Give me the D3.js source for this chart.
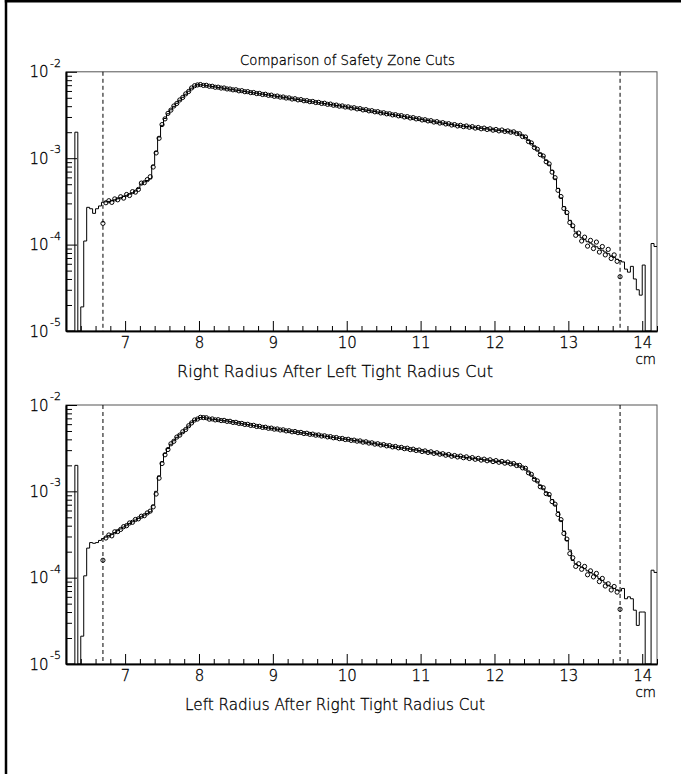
<!DOCTYPE html>
<html><head><meta charset="utf-8">
<script src="https://cdn.jsdelivr.net/npm/d3@7"></script>
<style>
body{margin:0;background:#fff;}
text{font-family:"DejaVu Sans",sans-serif;font-weight:200;fill:#000;stroke:#000;stroke-width:0.3px;}
</style>
</head><body>
<svg id="chart" width="681" height="774"></svg>
<script>
// ---------------- data ----------------
const chartTitle = "Comparison of Safety Zone Cuts";
const panelTitles = ["Right Radius After Left Tight Radius Cut", "Left Radius After Right Tight Radius Cut"];
const xUnit = "cm";
const xMajorTicks = [7, 8, 9, 10, 11, 12, 13, 14];
const yMajorTicks = [1e-5, 1e-4, 1e-3, 1e-2];
const yTickExponents = ["-5", "-4", "-3", "-2"];
const cutPositions = [6.7, 13.7];
const xDomain = [6.2, 14.2];
const yDomain = [1e-5, 1e-2];
const binStart = 6.2;      // first histogram bin edge (cm)
const binWidth = 0.04;     // histogram bin width (cm)
const pointsFirstBin = 12; // circles start at the bin centred on 6.70 cm

// top panel histogram (200 bins, 6.20 .. 14.20 cm)
const histTop = [
  0,0,0,2.0e-3,0,1.9e-5,1.1e-4,2.7e-4,2.6e-4,2.3e-4,2.6e-4,2.8e-4,
  3.09e-4,3.13e-4,3.16e-4,3.21e-4,3.30e-4,3.39e-4,3.49e-4,3.61e-4,3.72e-4,3.85e-4,
  3.98e-4,4.17e-4,4.47e-4,5.01e-4,5.31e-4,5.52e-4,5.75e-4,8.32e-4,1.20e-3,1.76e-3,
  2.40e-3,2.88e-3,3.27e-3,3.63e-3,3.98e-3,4.32e-3,4.68e-3,5.07e-3,5.50e-3,5.96e-3,
  6.46e-3,6.84e-3,7.08e-3,7.08e-3,7.00e-3,6.92e-3,6.84e-3,6.76e-3,6.67e-3,6.59e-3,
  6.52e-3,6.44e-3,6.37e-3,6.28e-3,6.21e-3,6.14e-3,6.07e-3,6.00e-3,5.92e-3,5.85e-3,
  5.78e-3,5.71e-3,5.65e-3,5.57e-3,5.51e-3,5.45e-3,5.38e-3,5.32e-3,5.25e-3,5.19e-3,
  5.13e-3,5.07e-3,5.01e-3,4.94e-3,4.89e-3,4.83e-3,4.78e-3,4.72e-3,4.66e-3,4.60e-3,
  4.55e-3,4.50e-3,4.45e-3,4.39e-3,4.34e-3,4.29e-3,4.24e-3,4.19e-3,4.13e-3,4.08e-3,
  4.04e-3,3.99e-3,3.94e-3,3.89e-3,3.85e-3,3.80e-3,3.76e-3,3.71e-3,3.66e-3,3.61e-3,
  3.56e-3,3.52e-3,3.47e-3,3.42e-3,3.37e-3,3.33e-3,3.29e-3,3.24e-3,3.20e-3,3.16e-3,
  3.12e-3,3.08e-3,3.03e-3,2.99e-3,2.95e-3,2.92e-3,2.88e-3,2.84e-3,2.80e-3,2.76e-3,
  2.73e-3,2.69e-3,2.65e-3,2.62e-3,2.58e-3,2.55e-3,2.52e-3,2.48e-3,2.45e-3,2.42e-3,
  2.39e-3,2.37e-3,2.35e-3,2.33e-3,2.31e-3,2.29e-3,2.26e-3,2.24e-3,2.22e-3,2.20e-3,
  2.18e-3,2.16e-3,2.14e-3,2.12e-3,2.10e-3,2.08e-3,2.07e-3,2.04e-3,2.02e-3,2.00e-3,
  1.96e-3,1.90e-3,1.82e-3,1.73e-3,1.60e-3,1.48e-3,1.36e-3,1.24e-3,1.14e-3,1.04e-3,
  9.44e-4,8.32e-4,7.24e-4,5.75e-4,4.47e-4,3.47e-4,2.75e-4,2.24e-4,1.91e-4,1.58e-4,
  1.40e-4,1.29e-4,1.20e-4,1.14e-4,1.08e-4,1.04e-4,9.89e-5,9.44e-5,9.02e-5,8.61e-5,
  8.22e-5,7.85e-5,7.41e-5,7.08e-5,6.76e-5,6.53e-5,
  6.3e-5,5.2e-5,4.8e-5,5.6e-5,4.0e-5,3.0e-5,2.6e-5,5.8e-5,0,0,1.03e-4,9.5e-5
];
// top panel points (bins 12 .. 187)
const pointsTop = [
  1.76e-4,3.05e-4,3.22e-4,3.08e-4,3.38e-4,3.30e-4,3.58e-4,3.45e-4,3.80e-4,3.70e-4,
  4.10e-4,4.05e-4,4.35e-4,5.15e-4,5.20e-4,5.65e-4,6.10e-4,7.90e-4,1.15e-3,1.70e-3,
  2.45e-3,2.85e-3,3.30e-3,3.60e-3,4.02e-3,4.30e-3,4.72e-3,5.05e-3,5.55e-3,5.92e-3,
  6.50e-3,6.90e-3,7.05e-3,7.12e-3,6.95e-3,6.98e-3,6.80e-3,6.80e-3,6.62e-3,6.64e-3,
  6.48e-3,6.50e-3,6.33e-3,6.32e-3,6.18e-3,6.20e-3,6.02e-3,6.05e-3,5.88e-3,5.90e-3,
  5.74e-3,5.76e-3,5.60e-3,5.62e-3,5.46e-3,5.50e-3,5.34e-3,5.37e-3,5.20e-3,5.24e-3,
  5.09e-3,5.11e-3,4.97e-3,4.99e-3,4.84e-3,4.88e-3,4.73e-3,4.77e-3,4.62e-3,4.64e-3,
  4.51e-3,4.54e-3,4.41e-3,4.43e-3,4.30e-3,4.33e-3,4.20e-3,4.23e-3,4.10e-3,4.12e-3,
  4.00e-3,4.03e-3,3.91e-3,3.93e-3,3.81e-3,3.84e-3,3.72e-3,3.75e-3,3.62e-3,3.65e-3,
  3.53e-3,3.55e-3,3.44e-3,3.46e-3,3.34e-3,3.36e-3,3.26e-3,3.27e-3,3.17e-3,3.19e-3,
  3.09e-3,3.11e-3,3.00e-3,3.03e-3,2.92e-3,2.95e-3,2.85e-3,2.87e-3,2.77e-3,2.79e-3,
  2.70e-3,2.72e-3,2.62e-3,2.65e-3,2.55e-3,2.58e-3,2.49e-3,2.51e-3,2.42e-3,2.45e-3,
  2.36e-3,2.40e-3,2.32e-3,2.36e-3,2.28e-3,2.32e-3,2.23e-3,2.27e-3,2.19e-3,2.23e-3,
  2.15e-3,2.19e-3,2.11e-3,2.15e-3,2.07e-3,2.12e-3,2.04e-3,2.07e-3,2.00e-3,2.02e-3,
  1.93e-3,1.92e-3,1.78e-3,1.76e-3,1.56e-3,1.50e-3,1.33e-3,1.27e-3,1.10e-3,1.06e-3,
  9.10e-4,8.60e-4,6.90e-4,5.95e-4,4.25e-4,3.60e-4,2.62e-4,2.35e-4,1.80e-4,1.65e-4,
  1.28e-4,1.36e-4,1.10e-4,1.22e-4,9.6e-5,1.12e-4,9.0e-5,1.07e-4,8.2e-5,9.5e-5,
  7.6e-5,8.8e-5,6.9e-5,7.6e-5,6.4e-5,4.25e-5
];
// bottom panel histogram (200 bins)
const histBottom = [
  0,0,0,2.0e-3,0,2.1e-5,1.05e-4,2.2e-4,2.55e-4,2.5e-4,2.55e-4,2.7e-4,
  2.84e-4,2.95e-4,3.07e-4,3.18e-4,3.33e-4,3.50e-4,3.67e-4,3.86e-4,4.06e-4,4.25e-4,
  4.44e-4,4.65e-4,4.86e-4,5.08e-4,5.31e-4,5.55e-4,5.79e-4,6.92e-4,1.00e-3,1.51e-3,
  2.19e-3,2.75e-3,3.13e-3,3.51e-3,3.85e-3,4.22e-3,4.52e-3,4.83e-3,5.25e-3,5.71e-3,
  6.24e-3,6.64e-3,6.92e-3,7.16e-3,7.19e-3,7.08e-3,6.92e-3,6.84e-3,6.78e-3,6.71e-3,
  6.65e-3,6.59e-3,6.52e-3,6.43e-3,6.34e-3,6.25e-3,6.17e-3,6.08e-3,6.00e-3,5.93e-3,
  5.85e-3,5.77e-3,5.69e-3,5.61e-3,5.55e-3,5.48e-3,5.42e-3,5.36e-3,5.30e-3,5.24e-3,
  5.18e-3,5.12e-3,5.06e-3,5.00e-3,4.94e-3,4.89e-3,4.83e-3,4.78e-3,4.72e-3,4.67e-3,
  4.61e-3,4.56e-3,4.51e-3,4.46e-3,4.41e-3,4.36e-3,4.31e-3,4.26e-3,4.21e-3,4.16e-3,
  4.11e-3,4.06e-3,4.02e-3,3.97e-3,3.93e-3,3.88e-3,3.85e-3,3.80e-3,3.75e-3,3.71e-3,
  3.66e-3,3.61e-3,3.56e-3,3.52e-3,3.48e-3,3.44e-3,3.40e-3,3.35e-3,3.31e-3,3.27e-3,
  3.23e-3,3.19e-3,3.16e-3,3.12e-3,3.08e-3,3.04e-3,3.01e-3,2.97e-3,2.93e-3,2.90e-3,
  2.86e-3,2.83e-3,2.79e-3,2.76e-3,2.73e-3,2.69e-3,2.66e-3,2.63e-3,2.59e-3,2.56e-3,
  2.54e-3,2.52e-3,2.49e-3,2.47e-3,2.44e-3,2.42e-3,2.39e-3,2.37e-3,2.34e-3,2.32e-3,
  2.30e-3,2.28e-3,2.25e-3,2.23e-3,2.21e-3,2.18e-3,2.16e-3,2.14e-3,2.11e-3,2.07e-3,
  2.03e-3,1.97e-3,1.91e-3,1.82e-3,1.68e-3,1.54e-3,1.41e-3,1.29e-3,1.17e-3,1.07e-3,
  9.77e-4,8.91e-4,8.04e-4,6.92e-4,5.79e-4,4.57e-4,3.47e-4,2.69e-4,2.09e-4,1.58e-4,
  1.45e-4,1.38e-4,1.33e-4,1.27e-4,1.20e-4,1.15e-4,1.10e-4,1.04e-4,9.77e-5,9.23e-5,
  8.71e-5,8.17e-5,7.85e-5,7.50e-5,7.21e-5,7.00e-5,
  7.5e-5,5.7e-5,6.0e-5,5.7e-5,4.2e-5,2.8e-5,4.0e-5,4.0e-5,0,0,1.22e-4,1.15e-4
];
// bottom panel points (bins 12 .. 187)
const pointsBottom = [
  1.59e-4,2.88e-4,3.12e-4,3.05e-4,3.40e-4,3.42e-4,3.62e-4,3.90e-4,4.00e-4,4.30e-4,
  4.38e-4,4.72e-4,4.80e-4,5.15e-4,5.22e-4,5.62e-4,5.90e-4,6.60e-4,9.30e-4,1.42e-3,
  2.10e-3,2.65e-3,3.05e-3,3.55e-3,3.80e-3,4.25e-3,4.48e-3,4.90e-3,5.20e-3,5.75e-3,
  6.20e-3,6.70e-3,6.88e-3,7.20e-3,7.15e-3,7.12e-3,6.85e-3,6.90e-3,6.72e-3,6.76e-3,
  6.60e-3,6.64e-3,6.46e-3,6.48e-3,6.28e-3,6.30e-3,6.12e-3,6.12e-3,5.95e-3,5.98e-3,
  5.80e-3,5.82e-3,5.64e-3,5.66e-3,5.50e-3,5.53e-3,5.37e-3,5.40e-3,5.25e-3,5.28e-3,
  5.13e-3,5.16e-3,5.01e-3,5.04e-3,4.89e-3,4.93e-3,4.78e-3,4.82e-3,4.67e-3,4.71e-3,
  4.57e-3,4.60e-3,4.47e-3,4.50e-3,4.37e-3,4.40e-3,4.27e-3,4.30e-3,4.17e-3,4.20e-3,
  4.07e-3,4.10e-3,3.98e-3,4.01e-3,3.89e-3,3.92e-3,3.81e-3,3.84e-3,3.71e-3,3.75e-3,
  3.62e-3,3.65e-3,3.52e-3,3.56e-3,3.44e-3,3.48e-3,3.36e-3,3.39e-3,3.27e-3,3.31e-3,
  3.19e-3,3.23e-3,3.12e-3,3.16e-3,3.04e-3,3.08e-3,2.97e-3,3.01e-3,2.89e-3,2.94e-3,
  2.82e-3,2.87e-3,2.75e-3,2.80e-3,2.69e-3,2.73e-3,2.62e-3,2.67e-3,2.55e-3,2.60e-3,
  2.50e-3,2.56e-3,2.45e-3,2.51e-3,2.40e-3,2.46e-3,2.35e-3,2.41e-3,2.30e-3,2.36e-3,
  2.26e-3,2.32e-3,2.21e-3,2.27e-3,2.17e-3,2.22e-3,2.12e-3,2.18e-3,2.08e-3,2.10e-3,
  1.99e-3,2.00e-3,1.87e-3,1.85e-3,1.64e-3,1.57e-3,1.38e-3,1.32e-3,1.13e-3,1.10e-3,
  9.40e-4,9.20e-4,7.60e-4,7.10e-4,5.40e-4,4.70e-4,3.25e-4,2.80e-4,1.90e-4,1.70e-4,
  1.35e-4,1.45e-4,1.25e-4,1.35e-4,1.08e-4,1.20e-4,1.02e-4,1.12e-4,9.0e-5,9.8e-5,
  8.0e-5,8.5e-5,7.2e-5,7.9e-5,6.8e-5,4.3e-5
];

if (histTop.length !== 200 || histBottom.length !== 200) throw new Error("hist length " + histTop.length + " " + histBottom.length);
if (pointsTop.length !== 176 || pointsBottom.length !== 176) throw new Error("points length " + pointsTop.length + " " + pointsBottom.length);

// ---------------- layout ----------------
const svg = d3.select("#chart");
const W = 681, H = 774;
const plotLeft = 66, plotRight = 657;
const panels = [
  {top: 71.8, bottom: 331, hist: histTop, pts: pointsTop, title: panelTitles[0], titleW: 316},
  {top: 405, bottom: 664, hist: histBottom, pts: pointsBottom, title: panelTitles[1], titleW: 300}
];

// scale a text's font size so it spans a given width
function fitWidth(sel, target) {
  const fs = parseFloat(sel.attr("font-size"));
  const w = sel.node().getComputedTextLength();
  if (w > 0) sel.attr("font-size", (fs * target / w).toFixed(2));
}

// outer page border (left and top only)
svg.append("line").attr("x1", 6).attr("x2", 6).attr("y1", 0).attr("y2", H)
  .attr("stroke", "#000").attr("stroke-width", 2.5);
svg.append("line").attr("x1", 4.8).attr("x2", W).attr("y1", 1.3).attr("y2", 1.3)
  .attr("stroke", "#000").attr("stroke-width", 2.5);

const tt = svg.append("text").attr("x", 347.5).attr("y", 65).attr("text-anchor", "middle")
  .attr("font-size", 14).text(chartTitle);
fitWidth(tt, 215);

const edges = d3.range(201).map(i => binStart + i * binWidth);
const xMinor = d3.range(6.4, 14.21, 0.2).filter(v => Math.abs(v - Math.round(v)) > 1e-6);
const yMinor = [];
[1e-5, 1e-4, 1e-3].forEach(d => { for (let m = 2; m <= 9; m++) yMinor.push(m * d); });

panels.forEach(p => {
  const x = d3.scaleLinear().domain(xDomain).range([plotLeft, plotRight]);
  const y = d3.scaleLog().domain(yDomain).range([p.bottom, p.top]).clamp(true);
  const g = svg.append("g");

  // frame
  g.append("rect").attr("x", plotLeft).attr("y", p.top)
    .attr("width", plotRight - plotLeft).attr("height", p.bottom - p.top)
    .attr("fill", "none").attr("stroke", "#555").attr("stroke-width", 1);

  // x axis (ticks inside)
  const ax = g.append("g").attr("transform", `translate(0,${p.bottom})`);
  ax.call(d3.axisBottom(x).tickValues(xMinor).tickSizeInner(-5).tickSizeOuter(0).tickFormat(""));
  const axM = g.append("g").attr("transform", `translate(0,${p.bottom})`);
  axM.call(d3.axisBottom(x).tickValues(xMajorTicks).tickSizeInner(-10).tickSizeOuter(0).tickPadding(6).tickFormat(d3.format("d")));
  [ax, axM].forEach(a => {
    a.select(".domain").attr("stroke", "#000").attr("stroke-width", 1.6);
    a.selectAll(".tick line").attr("stroke", "#000").attr("stroke-width", 1);
  });
  axM.selectAll(".tick text").attr("font-size", 15).attr("font-family", null).attr("fill", "#000");

  // y axis (ticks inside)
  const ay = g.append("g").attr("transform", `translate(${plotLeft},0)`);
  ay.call(d3.axisLeft(y).tickValues(yMinor).tickSizeInner(-6).tickSizeOuter(0).tickFormat(""));
  const ayM = g.append("g").attr("transform", `translate(${plotLeft},0)`);
  ayM.call(d3.axisLeft(y).tickValues(yMajorTicks).tickSizeInner(-11).tickSizeOuter(0).tickFormat(""));
  [ay, ayM].forEach(a => {
    a.select(".domain").attr("stroke", "#000").attr("stroke-width", 1.6);
    a.selectAll(".tick line").attr("stroke", "#000").attr("stroke-width", 1);
  });
  yMajorTicks.forEach((t, i) => {
    const ty = y(t);
    g.append("text").attr("x", 48.5).attr("y", ty + 5.5)
      .attr("text-anchor", "end").attr("font-size", 15).text("10");
    g.append("text").attr("x", 50).attr("y", ty - 5).attr("font-size", 11).text(yTickExponents[i]);
  });

  // unit and axis title
  g.append("text").attr("x", 656).attr("y", p.bottom + 33).attr("text-anchor", "end")
    .attr("font-size", 13.5).text(xUnit);
  const at = g.append("text").attr("x", 335).attr("y", p.bottom + 45.5).attr("text-anchor", "middle")
    .attr("font-size", 14).text(p.title);
  fitWidth(at, p.titleW);

  // cut lines
  cutPositions.forEach(c => {
    g.append("line").attr("x1", x(c)).attr("x2", x(c)).attr("y1", p.top).attr("y2", p.bottom)
      .attr("stroke", "#000").attr("stroke-width", 1).attr("stroke-dasharray", "4,3");
  });

  // histogram (step line)
  const yv = v => y(Math.max(v, yDomain[0]));
  const stepPts = p.hist.map((v, i) => [edges[i], v]);
  stepPts.push([edges[200], p.hist[199]]);
  const line = d3.line().x(d => x(d[0])).y(d => yv(d[1])).curve(d3.curveStepAfter);
  g.append("path").attr("d", line(stepPts)).attr("fill", "none")
    .attr("stroke", "#000").attr("stroke-width", 1);

  // points
  g.append("g").selectAll("circle").data(p.pts).join("circle")
    .attr("cx", (d, i) => x((edges[pointsFirstBin + i] + edges[pointsFirstBin + i + 1]) / 2))
    .attr("cy", d => yv(d))
    .attr("r", 2.1).attr("fill", "none").attr("stroke", "#000").attr("stroke-width", 1);
});
</script>
</body></html>
